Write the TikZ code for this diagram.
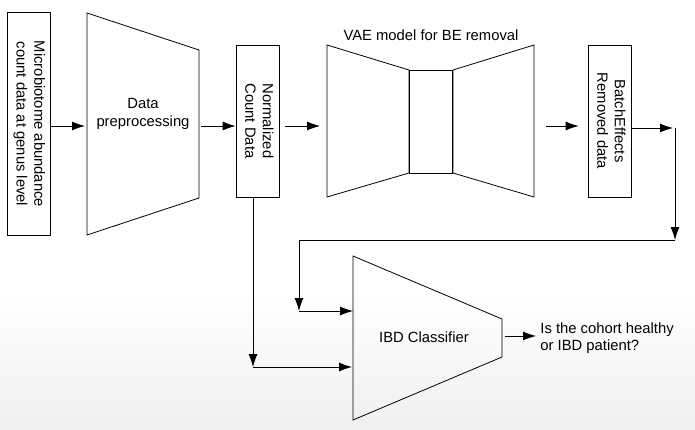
\documentclass[tikz,border=0pt]{standalone}
\usepackage{fontspec}
\setmainfont{Liberation Sans}
\usetikzlibrary{positioning}
\usetikzlibrary{arrows.meta}

\newcommand{\vtext}[1]{\rotatebox{-90}{\begin{tabular}{@{}c@{}}#1\end{tabular}}}

\begin{document}
\begin{tikzpicture}[x=1pt,y=-1pt,
    font=\fontsize{14.8}{17.5}\selectfont,
    line width=0.8pt,
    databox/.style={draw, inner sep=0pt, minimum width=43},
    arrow/.style={-{Latex[length=13pt,width=9pt]}}]
    \useasboundingbox (0,0) rectangle (695,430);
    \shade[top color=white, bottom color=black!6] (0,290) rectangle (695,430);

    % input data
    \node[databox, minimum height=223] (raw) at (29,124) {\vtext{Microbiotome abundance\\count data at genus level}};

    % preprocessing block
    \draw (87,13) -- (199,50) -- (199,198) -- (87,235) -- cycle;
    \node[align=center] (pretext) at (143,114) {Data\\preprocessing};
    \coordinate (pre-in) at (87,126);
    \coordinate (pre-out) at (199,126);

    \node[databox, minimum height=152] (norm) at (257.5,121) {\vtext{Normalized\\Count Data}};

    % VAE
    \draw (327,45) -- (409,70) -- (409,173) -- (327,197) -- cycle;
    \node[draw, minimum width=43, minimum height=103] (latent) at (430.5,121.5) {};
    \draw (453,70) -- (534,45) -- (534,197) -- (453,173) -- cycle;
    \node (vaelabel) at (431,35) {VAE model for BE removal};
    \coordinate (vae-in) at (327,126);
    \coordinate (vae-out) at (534,126);

    \node[databox, minimum height=152] (batch) at (609.5,121) {\vtext{BatchEffects\\Removed data}};

    % classifier
    \draw (353,256) -- (502,319) -- (502,357) -- (353,420) -- cycle;
    \node (clstext) at (424,337) {IBD Classifier};
    \node[anchor=west, align=left, inner sep=2pt] (answer) at (538,338) {Is the cohort healthy\\or IBD patient?};
    \coordinate (cls-in1) at (353,311);
    \coordinate (cls-in2) at (353,367);
    \coordinate (cls-out) at (502,336);

    % routing
    \coordinate (c1) at (675,128);
    \coordinate (c2) at (675,240);
    \coordinate (c3) at (299,240);
    \coordinate (c4) at (299,311);
    \coordinate (c5) at (253,367);

    \draw[arrow] (raw.east |- pre-in) -- ([xshift=-2pt]pre-in);
    \draw[arrow] ([xshift=2pt]pre-out) -- (norm.west |- pre-out);
    \draw[arrow] ([xshift=6pt]norm.east |- vae-in) -- ([xshift=-7pt]vae-in);
    \draw[arrow] ([xshift=12pt]vae-out) -- ([xshift=-9pt]batch.west |- vae-out);
    \draw[arrow] (batch.east |- c1) -- ([xshift=-2pt]c1);
    \draw[arrow] (c1) -- (c2);
    \draw (c2) -- (c3);
    \draw[arrow] (c3) -- (c4);
    \draw[arrow] (c4) -- (cls-in1);
    \draw[arrow] (norm.south -| c5) -- (c5);
    \draw[arrow] (c5) -- ([xshift=-1pt]cls-in2);
    \draw[arrow] ([xshift=3pt]cls-out) -- ([xshift=-2pt]answer.west |- cls-out);
\end{tikzpicture}
\end{document}
